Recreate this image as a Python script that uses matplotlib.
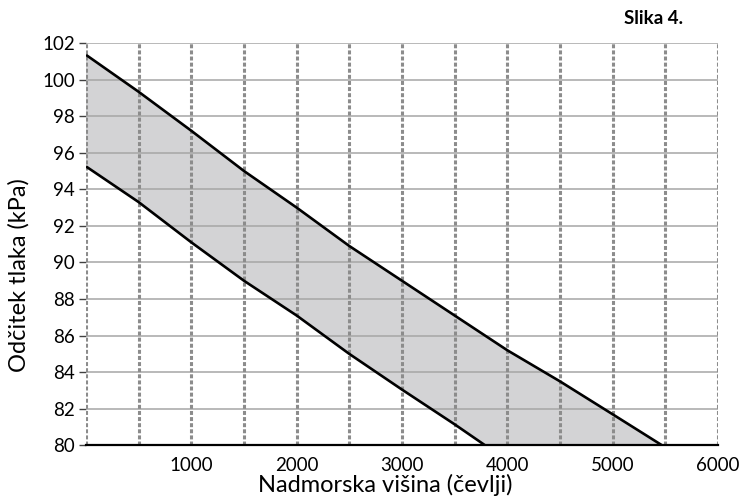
import matplotlib as mpl
mpl.use("Agg")
import matplotlib.pyplot as plt
import numpy as np

plt.rcParams["font.family"] = ["Lato", "DejaVu Sans"]

# values
upper_alt = [0, 500, 1000, 1500, 2000, 2500, 3000, 3500, 4000, 4500, 5000, 5470]
upper_kpa = [101.35, 99.33, 97.2, 95.0, 93.0, 90.9, 89.0, 87.1, 85.2, 83.5, 81.7, 80.0]
lower_alt = [0, 500, 1000, 1500, 2000, 2500, 3000, 3500, 3790]
lower_kpa = [95.25, 93.3, 91.1, 89.0, 87.1, 85.0, 83.05, 81.15, 80.0]

x_ticks = [1000, 2000, 3000, 4000, 5000, 6000]
y_ticks = list(range(80, 103, 2))
v_grid = list(range(0, 6001, 500))

fig = plt.figure(figsize=(7.52, 5.0), dpi=100)
ax = fig.add_axes([0.1144, 0.1092, 0.8404, 0.8048])

# shaded band between the two limits (closed along the bottom at 80 kPa)
band_x = upper_alt + lower_alt[::-1]
band_y = upper_kpa + lower_kpa[::-1]
ax.fill(band_x, band_y, color="#d3d3d5", lw=0, zorder=1)

for v in y_ticks:
    ax.axhline(v, color="#a6a6a6", lw=1.1, zorder=2)
for v in v_grid:
    ax.axvline(v, color="#8c8c8c", lw=2.2, linestyle=(0, (1.3, 0.7)), zorder=3)

ax.plot(upper_alt, upper_kpa, color="black", lw=1.9, zorder=4, solid_capstyle="butt")
ax.plot(lower_alt, lower_kpa, color="black", lw=1.9, zorder=4, solid_capstyle="butt")

ax.set_xlim(0, 6000)
ax.set_ylim(80, 102)
ax.set_xticks(x_ticks)
ax.set_yticks(y_ticks)
ax.tick_params(axis="x", length=0, pad=8, labelsize=13.5)
ax.tick_params(axis="y", length=5, width=1, color="#404040", pad=3, labelsize=13.5)

for side in ("top", "right", "left"):
    ax.spines[side].set_visible(False)
ax.spines["bottom"].set_color("black")
ax.spines["bottom"].set_linewidth(1.6)
ax.spines["bottom"].set_zorder(5)

ax.set_xlabel("Nadmorska višina (čevlji)", fontsize=17, labelpad=0)
ax.xaxis.set_label_coords(0.473, -0.072)
ax.set_ylabel("Odčitek tlaka (kPa)", fontsize=17)
ax.yaxis.set_label_coords(-0.09, 0.423)

fig.text(0.908, 0.964, "Slika 4.", fontsize=13.5, fontweight="bold", ha="right", va="center")

fig.savefig("out.png", dpi=100)
